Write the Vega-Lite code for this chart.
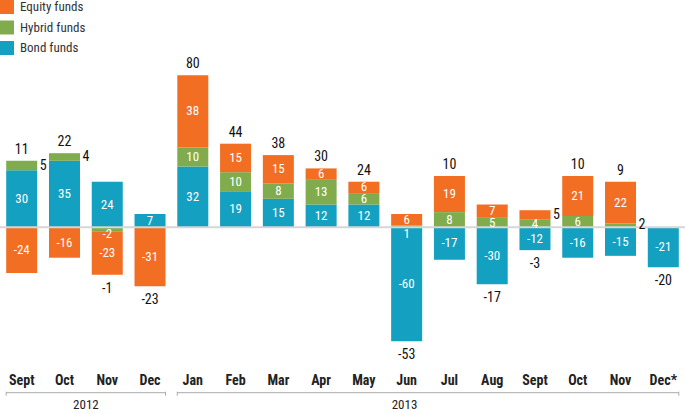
{
  "$schema": "https://vega.github.io/schema/vega-lite/v6.json",
  "width": 685,
  "height": 360,
  "autosize": {"type": "none"},
  "padding": {"top": 0, "left": 0, "right": 0, "bottom": 54},
  "background": "white",
  "config": {
    "view": {"stroke": null},
    "font": "Roboto Condensed, Roboto, sans-serif",
    "text": {"font": "Roboto Condensed, Roboto, sans-serif"}
  },
  "datasets": {
    "segments": [
      {"month": "Sept 2012", "type": "Bond funds", "value": 30, "lab": "in"},
      {"month": "Sept 2012", "type": "Hybrid funds", "value": 5, "lab": "out"},
      {"month": "Sept 2012", "type": "Equity funds", "value": -24, "lab": "in"},
      {"month": "Oct 2012", "type": "Bond funds", "value": 35, "lab": "in"},
      {"month": "Oct 2012", "type": "Hybrid funds", "value": 4, "lab": "out"},
      {"month": "Oct 2012", "type": "Equity funds", "value": -16, "lab": "in"},
      {"month": "Nov 2012", "type": "Bond funds", "value": 24, "lab": "in"},
      {"month": "Nov 2012", "type": "Hybrid funds", "value": -2, "lab": "below"},
      {"month": "Nov 2012", "type": "Equity funds", "value": -23, "lab": "in"},
      {"month": "Dec 2012", "type": "Bond funds", "value": 7, "lab": "in"},
      {"month": "Dec 2012", "type": "Equity funds", "value": -31, "lab": "in"},
      {"month": "Jan 2013", "type": "Bond funds", "value": 32, "lab": "in"},
      {"month": "Jan 2013", "type": "Hybrid funds", "value": 10, "lab": "in"},
      {"month": "Jan 2013", "type": "Equity funds", "value": 38, "lab": "in"},
      {"month": "Feb 2013", "type": "Bond funds", "value": 19, "lab": "in"},
      {"month": "Feb 2013", "type": "Hybrid funds", "value": 10, "lab": "in"},
      {"month": "Feb 2013", "type": "Equity funds", "value": 15, "lab": "in"},
      {"month": "Mar 2013", "type": "Bond funds", "value": 15, "lab": "in"},
      {"month": "Mar 2013", "type": "Hybrid funds", "value": 8, "lab": "in"},
      {"month": "Mar 2013", "type": "Equity funds", "value": 15, "lab": "in"},
      {"month": "Apr 2013", "type": "Bond funds", "value": 12, "lab": "in"},
      {"month": "Apr 2013", "type": "Hybrid funds", "value": 13, "lab": "in"},
      {"month": "Apr 2013", "type": "Equity funds", "value": 6, "lab": "in"},
      {"month": "May 2013", "type": "Bond funds", "value": 12, "lab": "in"},
      {"month": "May 2013", "type": "Hybrid funds", "value": 6, "lab": "in"},
      {"month": "May 2013", "type": "Equity funds", "value": 6, "lab": "in"},
      {"month": "Jun 2013", "type": "Bond funds", "value": -60, "lab": "in"},
      {"month": "Jun 2013", "type": "Hybrid funds", "value": 1, "lab": "below"},
      {"month": "Jun 2013", "type": "Equity funds", "value": 6, "lab": "in"},
      {"month": "Jul 2013", "type": "Bond funds", "value": -17, "lab": "in"},
      {"month": "Jul 2013", "type": "Hybrid funds", "value": 8, "lab": "in"},
      {"month": "Jul 2013", "type": "Equity funds", "value": 19, "lab": "in"},
      {"month": "Aug 2013", "type": "Bond funds", "value": -30, "lab": "in"},
      {"month": "Aug 2013", "type": "Hybrid funds", "value": 5, "lab": "in"},
      {"month": "Aug 2013", "type": "Equity funds", "value": 7, "lab": "in"},
      {"month": "Sept 2013", "type": "Bond funds", "value": -12, "lab": "in"},
      {"month": "Sept 2013", "type": "Hybrid funds", "value": 4, "lab": "in"},
      {"month": "Sept 2013", "type": "Equity funds", "value": 5, "lab": "out"},
      {"month": "Oct 2013", "type": "Bond funds", "value": -16, "lab": "in"},
      {"month": "Oct 2013", "type": "Hybrid funds", "value": 6, "lab": "in"},
      {"month": "Oct 2013", "type": "Equity funds", "value": 21, "lab": "in"},
      {"month": "Nov 2013", "type": "Bond funds", "value": -15, "lab": "in"},
      {"month": "Nov 2013", "type": "Hybrid funds", "value": 2, "lab": "out"},
      {"month": "Nov 2013", "type": "Equity funds", "value": 22, "lab": "in"},
      {"month": "Dec* 2013", "type": "Bond funds", "value": -21, "lab": "in"}
    ],
    "totals": [
      {"month": "Sept 2012", "total": 11},
      {"month": "Oct 2012", "total": 22},
      {"month": "Nov 2012", "total": -1},
      {"month": "Dec 2012", "total": -23},
      {"month": "Jan 2013", "total": 80},
      {"month": "Feb 2013", "total": 44},
      {"month": "Mar 2013", "total": 38},
      {"month": "Apr 2013", "total": 30},
      {"month": "May 2013", "total": 24},
      {"month": "Jun 2013", "total": -53},
      {"month": "Jul 2013", "total": 10},
      {"month": "Aug 2013", "total": -17},
      {"month": "Sept 2013", "total": -3},
      {"month": "Oct 2013", "total": 10},
      {"month": "Nov 2013", "total": 9},
      {"month": "Dec* 2013", "total": -20}
    ],
    "years": [
      {"year": "2012", "month": "Sept 2012", "last": "Dec 2012", "anchor": "Oct 2012"},
      {"year": "2013", "month": "Jan 2013", "last": "Dec* 2013", "anchor": "Jun 2013"}
    ]
  },
  "layer": [
    {
      "data": {"name": "segments"},
      "transform": [
        {"calculate": "indexof(['Bond funds','Hybrid funds','Equity funds'], datum.type)", "as": "ord"},
        {"stack": "value", "groupby": ["month"], "sort": [{"field": "ord", "order": "ascending"}], "as": ["v0", "v1"], "offset": "zero"}
      ],
      "mark": {"type": "bar"},
      "encoding": {
        "x": {
          "field": "month", "type": "nominal", "title": null,
          "scale": {"domain": ["Sept 2012","Oct 2012","Nov 2012","Dec 2012","Jan 2013","Feb 2013","Mar 2013","Apr 2013","May 2013","Jun 2013","Jul 2013","Aug 2013","Sept 2013","Oct 2013","Nov 2013","Dec* 2013"], "paddingInner": 0.275, "paddingOuter": 0.145},
          "axis": {"labelExpr": "split(datum.label, ' ')[0]", "ticks": false, "domain": false, "grid": false, "labelAngle": 0, "labelFontSize": 14, "labelFontWeight": "bold", "labelColor": "#222", "labelPadding": 13, "labelFont": "Roboto Condensed, Roboto, sans-serif"}
        },
        "y": {"field": "v0", "type": "quantitative", "axis": null, "scale": {"domain": [-69.8, 119.6], "nice": false, "zero": false}},
        "y2": {"field": "v1"},
        "color": {
          "field": "type", "type": "nominal",
          "scale": {"domain": ["Equity funds", "Hybrid funds", "Bond funds"], "range": ["#F26E22", "#80AC4E", "#14A0C0"]},
          "legend": {"orient": "top-left", "offset": 0, "padding": 0, "title": null, "symbolType": "square", "symbolSize": 196, "symbolStrokeWidth": 0, "labelFontSize": 13, "labelColor": "#333", "rowPadding": 6.5, "labelOffset": 6, "labelFont": "Roboto Condensed, Roboto, sans-serif"}
        }
      }
    },
    {
      "data": {"values": [{"zero": 0}]},
      "mark": {"type": "rule", "color": "#d6d6d6", "strokeWidth": 2},
      "encoding": {
        "y": {"field": "zero", "type": "quantitative", "axis": null, "scale": {"domain": [-69.8, 119.6], "nice": false, "zero": false}}
      }
    },
    {
      "data": {"name": "segments"},
      "transform": [
        {"calculate": "indexof(['Bond funds','Hybrid funds','Equity funds'], datum.type)", "as": "ord"},
        {"stack": "value", "groupby": ["month"], "sort": [{"field": "ord", "order": "ascending"}], "as": ["v0", "v1"], "offset": "zero"},
        {"calculate": "(datum.v0 + datum.v1) / 2", "as": "mid"},
        {"filter": "datum.lab == 'in'"}
      ],
      "mark": {"type": "text", "color": "white", "fontSize": 13, "baseline": "middle", "align": "center"},
      "encoding": {
        "x": {"field": "month", "type": "nominal", "title": null, "scale": {"domain": ["Sept 2012","Oct 2012","Nov 2012","Dec 2012","Jan 2013","Feb 2013","Mar 2013","Apr 2013","May 2013","Jun 2013","Jul 2013","Aug 2013","Sept 2013","Oct 2013","Nov 2013","Dec* 2013"]}},
        "y": {"field": "mid", "type": "quantitative", "axis": null, "scale": {"domain": [-69.8, 119.6], "nice": false, "zero": false}},
        "text": {"field": "value", "type": "nominal"}
      }
    },
    {
      "data": {"name": "segments"},
      "transform": [
        {"calculate": "indexof(['Bond funds','Hybrid funds','Equity funds'], datum.type)", "as": "ord"},
        {"stack": "value", "groupby": ["month"], "sort": [{"field": "ord", "order": "ascending"}], "as": ["v0", "v1"], "offset": "zero"},
        {"calculate": "(datum.v0 + datum.v1) / 2", "as": "mid"},
        {"filter": "datum.lab == 'out'"}
      ],
      "mark": {"type": "text", "color": "#111", "fontSize": 14, "baseline": "middle", "align": "left", "dx": 18},
      "encoding": {
        "x": {"field": "month", "type": "nominal", "title": null, "scale": {"domain": ["Sept 2012","Oct 2012","Nov 2012","Dec 2012","Jan 2013","Feb 2013","Mar 2013","Apr 2013","May 2013","Jun 2013","Jul 2013","Aug 2013","Sept 2013","Oct 2013","Nov 2013","Dec* 2013"]}},
        "y": {"field": "mid", "type": "quantitative", "axis": null, "scale": {"domain": [-69.8, 119.6], "nice": false, "zero": false}},
        "text": {"field": "value", "type": "nominal"}
      }
    },
    {
      "data": {"name": "segments"},
      "transform": [
        {"calculate": "indexof(['Bond funds','Hybrid funds','Equity funds'], datum.type)", "as": "ord"},
        {"stack": "value", "groupby": ["month"], "sort": [{"field": "ord", "order": "ascending"}], "as": ["v0", "v1"], "offset": "zero"},
        {"filter": "datum.lab == 'below'"}
      ],
      "mark": {"type": "text", "color": "white", "fontSize": 13, "baseline": "middle", "align": "center", "dy": 7},
      "encoding": {
        "x": {"field": "month", "type": "nominal", "title": null, "scale": {"domain": ["Sept 2012","Oct 2012","Nov 2012","Dec 2012","Jan 2013","Feb 2013","Mar 2013","Apr 2013","May 2013","Jun 2013","Jul 2013","Aug 2013","Sept 2013","Oct 2013","Nov 2013","Dec* 2013"]}},
        "y": {"field": "v0", "type": "quantitative", "axis": null, "scale": {"domain": [-69.8, 119.6], "nice": false, "zero": false}},
        "text": {"field": "value", "type": "nominal"}
      }
    },
    {
      "data": {"name": "segments"},
      "transform": [
        {"calculate": "max(datum.value, 0)", "as": "p"},
        {"calculate": "min(datum.value, 0)", "as": "n"},
        {"aggregate": [{"op": "sum", "field": "p", "as": "pos"}, {"op": "sum", "field": "n", "as": "neg"}], "groupby": ["month"]},
        {"lookup": "month", "from": {"data": {"name": "totals"}, "key": "month", "fields": ["total"]}},
        {"filter": "datum.total >= 0"}
      ],
      "mark": {"type": "text", "color": "#111", "fontSize": 14, "baseline": "middle", "align": "center", "dy": -11},
      "encoding": {
        "x": {"field": "month", "type": "nominal", "title": null, "scale": {"domain": ["Sept 2012","Oct 2012","Nov 2012","Dec 2012","Jan 2013","Feb 2013","Mar 2013","Apr 2013","May 2013","Jun 2013","Jul 2013","Aug 2013","Sept 2013","Oct 2013","Nov 2013","Dec* 2013"]}},
        "y": {"field": "pos", "type": "quantitative", "axis": null, "scale": {"domain": [-69.8, 119.6], "nice": false, "zero": false}},
        "text": {"field": "total", "type": "nominal"}
      }
    },
    {
      "data": {"name": "segments"},
      "transform": [
        {"calculate": "max(datum.value, 0)", "as": "p"},
        {"calculate": "min(datum.value, 0)", "as": "n"},
        {"aggregate": [{"op": "sum", "field": "p", "as": "pos"}, {"op": "sum", "field": "n", "as": "neg"}], "groupby": ["month"]},
        {"lookup": "month", "from": {"data": {"name": "totals"}, "key": "month", "fields": ["total"]}},
        {"filter": "datum.total < 0"}
      ],
      "mark": {"type": "text", "color": "#111", "fontSize": 14, "baseline": "middle", "align": "center", "dy": 14},
      "encoding": {
        "x": {"field": "month", "type": "nominal", "title": null, "scale": {"domain": ["Sept 2012","Oct 2012","Nov 2012","Dec 2012","Jan 2013","Feb 2013","Mar 2013","Apr 2013","May 2013","Jun 2013","Jul 2013","Aug 2013","Sept 2013","Oct 2013","Nov 2013","Dec* 2013"]}},
        "y": {"field": "neg", "type": "quantitative", "axis": null, "scale": {"domain": [-69.8, 119.6], "nice": false, "zero": false}},
        "text": {"field": "total", "type": "nominal"}
      }
    },
    {
      "data": {"name": "years"},
      "mark": {"type": "rule", "color": "#aaa", "strokeWidth": 1},
      "encoding": {
        "x": {"field": "month", "type": "nominal", "title": null, "bandPosition": 0, "scale": {"domain": ["Sept 2012","Oct 2012","Nov 2012","Dec 2012","Jan 2013","Feb 2013","Mar 2013","Apr 2013","May 2013","Jun 2013","Jul 2013","Aug 2013","Sept 2013","Oct 2013","Nov 2013","Dec* 2013"]}},
        "x2": {"field": "last", "bandPosition": 1},
        "y": {"datum": -87, "type": "quantitative", "axis": null, "scale": {"domain": [-69.8, 119.6], "nice": false, "zero": false}}
      }
    },
    {
      "data": {"name": "years"},
      "mark": {"type": "rule", "color": "#aaa", "strokeWidth": 1},
      "encoding": {
        "x": {"field": "month", "type": "nominal", "title": null, "bandPosition": 0, "scale": {"domain": ["Sept 2012","Oct 2012","Nov 2012","Dec 2012","Jan 2013","Feb 2013","Mar 2013","Apr 2013","May 2013","Jun 2013","Jul 2013","Aug 2013","Sept 2013","Oct 2013","Nov 2013","Dec* 2013"]}},
        "y": {"datum": -86.5, "type": "quantitative", "axis": null, "scale": {"domain": [-69.8, 119.6], "nice": false, "zero": false}},
        "y2": {"datum": -88.6}
      }
    },
    {
      "data": {"name": "years"},
      "mark": {"type": "rule", "color": "#aaa", "strokeWidth": 1},
      "encoding": {
        "x": {"field": "last", "type": "nominal", "title": null, "bandPosition": 1, "scale": {"domain": ["Sept 2012","Oct 2012","Nov 2012","Dec 2012","Jan 2013","Feb 2013","Mar 2013","Apr 2013","May 2013","Jun 2013","Jul 2013","Aug 2013","Sept 2013","Oct 2013","Nov 2013","Dec* 2013"]}},
        "y": {"datum": -86.5, "type": "quantitative", "axis": null, "scale": {"domain": [-69.8, 119.6], "nice": false, "zero": false}},
        "y2": {"datum": -88.6}
      }
    },
    {
      "data": {"name": "years"},
      "transform": [{"filter": "datum.year == '2012'"}],
      "mark": {"type": "text", "color": "#222", "fontSize": 13, "baseline": "middle", "align": "center"},
      "encoding": {
        "x": {"field": "anchor", "type": "nominal", "title": null, "bandPosition": 1.19, "scale": {"domain": ["Sept 2012","Oct 2012","Nov 2012","Dec 2012","Jan 2013","Feb 2013","Mar 2013","Apr 2013","May 2013","Jun 2013","Jul 2013","Aug 2013","Sept 2013","Oct 2013","Nov 2013","Dec* 2013"]}},
        "y": {"datum": -93.5, "type": "quantitative", "axis": null, "scale": {"domain": [-69.8, 119.6], "nice": false, "zero": false}},
        "text": {"field": "year", "type": "nominal"}
      }
    },
    {
      "data": {"name": "years"},
      "transform": [{"filter": "datum.year == '2013'"}],
      "mark": {"type": "text", "color": "#222", "fontSize": 13, "baseline": "middle", "align": "center"},
      "encoding": {
        "x": {"field": "anchor", "type": "nominal", "title": null, "bandPosition": 0.43, "scale": {"domain": ["Sept 2012","Oct 2012","Nov 2012","Dec 2012","Jan 2013","Feb 2013","Mar 2013","Apr 2013","May 2013","Jun 2013","Jul 2013","Aug 2013","Sept 2013","Oct 2013","Nov 2013","Dec* 2013"]}},
        "y": {"datum": -93.5, "type": "quantitative", "axis": null, "scale": {"domain": [-69.8, 119.6], "nice": false, "zero": false}},
        "text": {"field": "year", "type": "nominal"}
      }
    }
  ]
}
